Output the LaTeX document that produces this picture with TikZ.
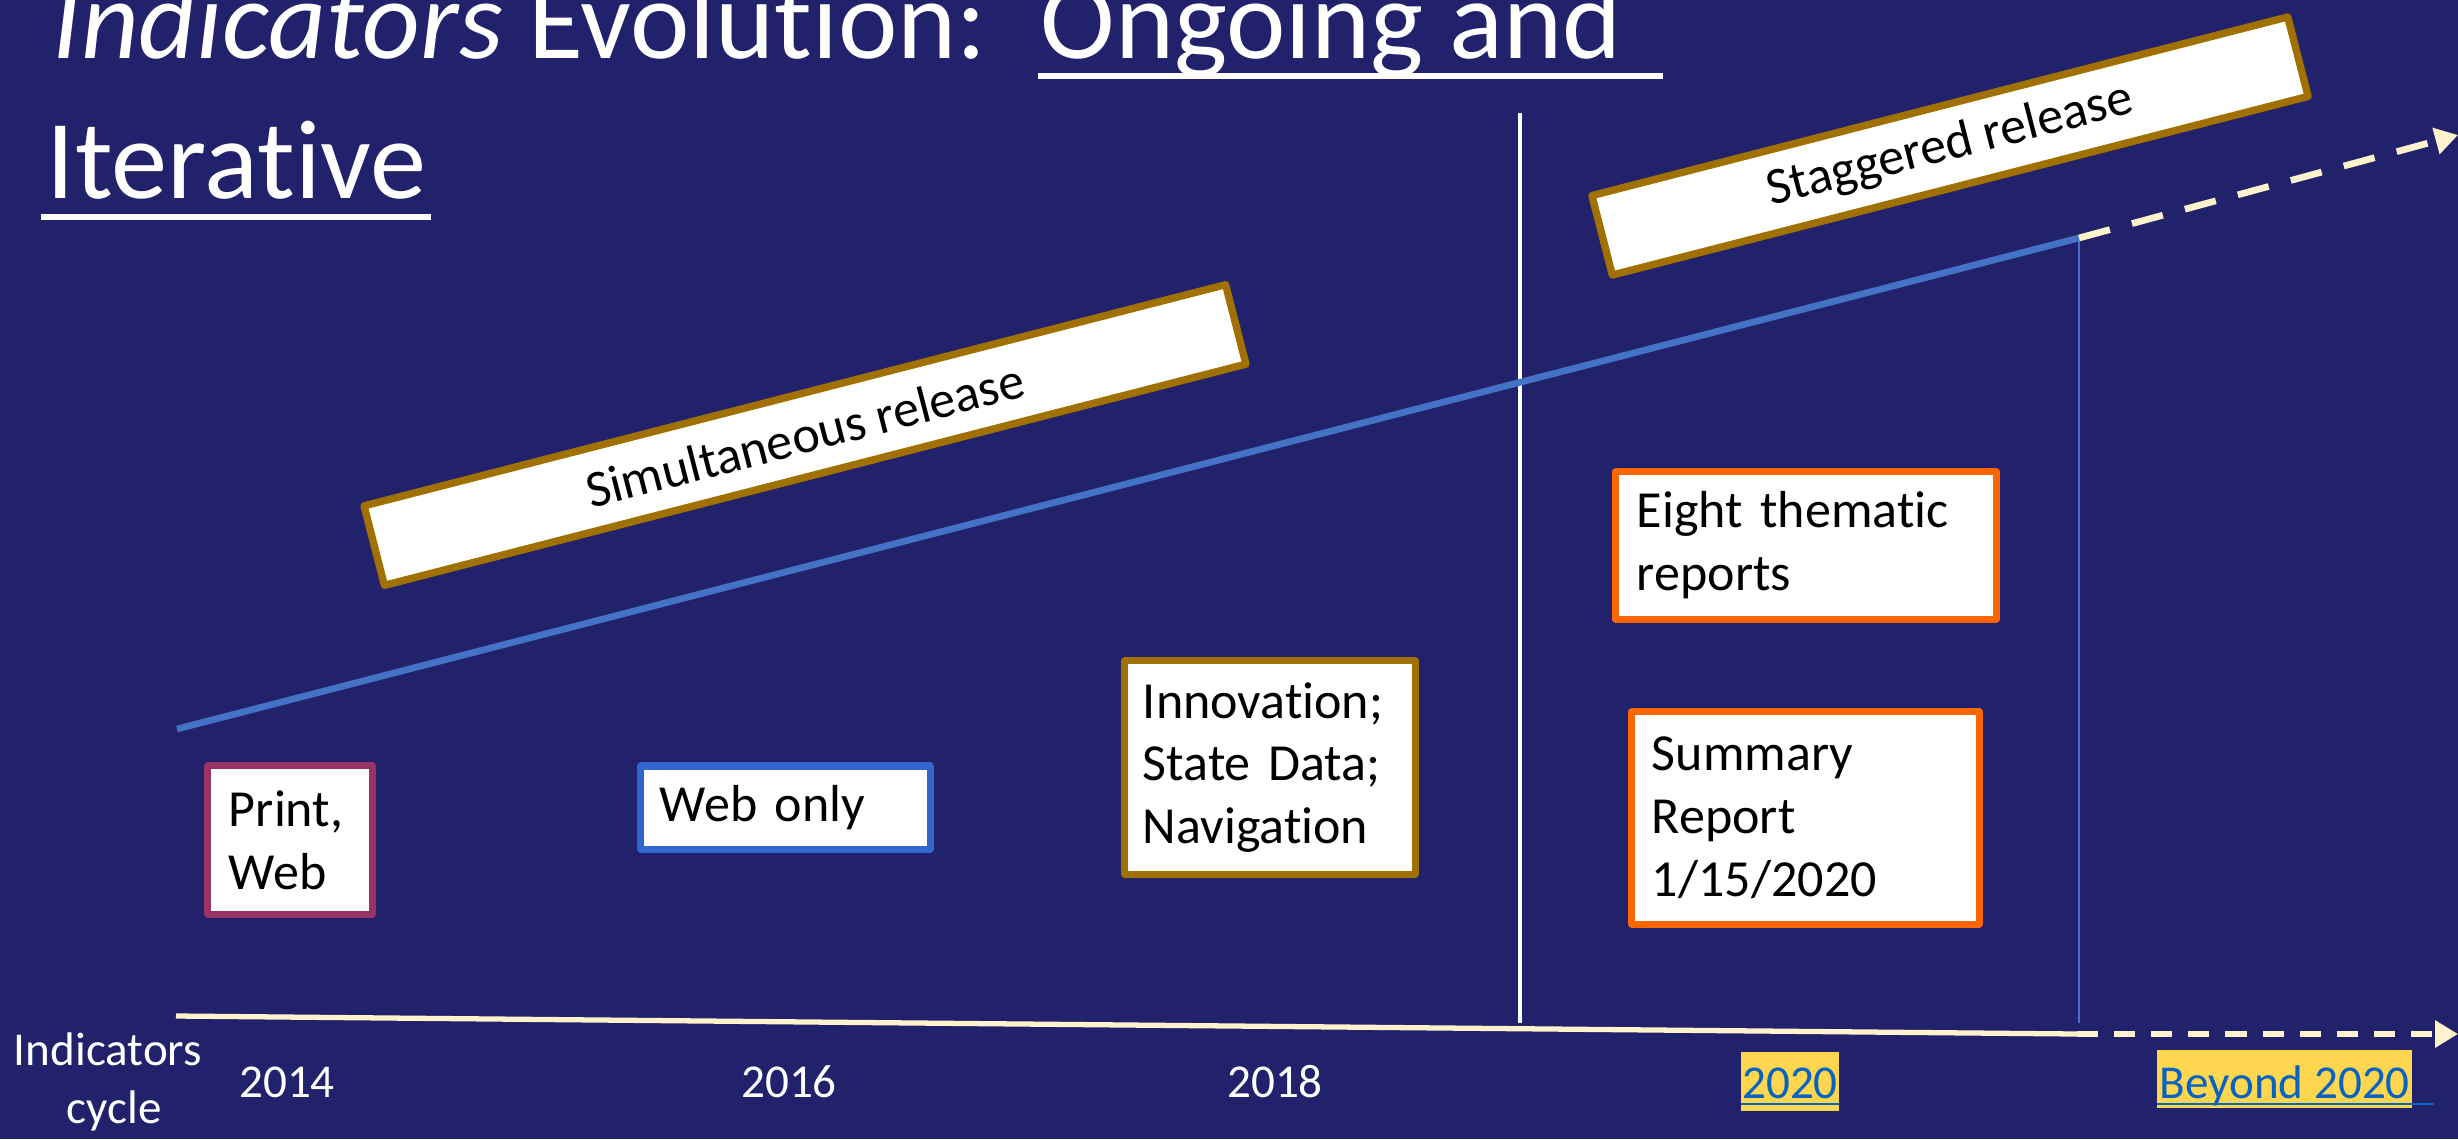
\documentclass[tikz,border=0pt]{standalone}
\usepackage{fontspec}
\setmainfont{Carlito}[Ligatures={NoCommon}]
\usetikzlibrary{arrows.meta}
\definecolor{bg}{RGB}{34,33,107}
\definecolor{gold}{RGB}{160,113,0}
\definecolor{plum}{RGB}{153,51,102}
\definecolor{webblue}{RGB}{51,102,204}
\definecolor{orng}{RGB}{255,102,0}
\definecolor{lineblue}{RGB}{68,114,196}
\definecolor{cream}{RGB}{255,242,204}
\definecolor{hl}{RGB}{255,214,79}
\definecolor{link}{RGB}{5,99,193}
\newcommand\ttlfont{\fontsize{32pt}{39pt}\selectfont}
\newcommand\bxfont{\fontsize{14.8pt}{17.9pt}\selectfont}
\newcommand\yrfont{\fontsize{13.4pt}{16.5pt}\selectfont}
\newcommand\nolig{\kern0pt }
\tikzset{
  txt/.style={inner sep=0pt, text=white},
  ttl/.style={txt, font=\ttlfont, anchor=base west},
  yr/.style={txt, font=\yrfont, anchor=base},
  tbox/.style={draw, line width=2pt, fill=white, inner sep=0pt, align=left,
    font=\bxfont, text=black, line join=round},
  rbox/.style={draw=gold, line width=2.1pt, fill=white, inner sep=0pt,
    font=\bxfont, text=black, line join=round, rotate=14.4},
  hlbox/.style={fill=hl, inner sep=0pt},
  uline/.style={draw=white, line width=1.7pt},
  lkline/.style={draw=link, line width=0.8pt},
}
\begin{document}
\begin{tikzpicture}[x=0.01cm,y=-0.01cm]
\useasboundingbox (0,0) rectangle (2458,1139);
\fill[bg] (0,0) rectangle (2458,1139);

% title
\node[ttl] (t1) at (52,58) {\textit{Indicators} Evolut\nolig ion:};
\node[ttl] (t2) at (1040,58) {Ongoing and};
\node[ttl] (t3) at (46,198) {Iterat\nolig ive};
\coordinate (u1a) at (1038,76); \coordinate (u1b) at (1663,76);
\coordinate (u2a) at (41,217);  \coordinate (u2b) at (431,217);
\draw[uline] (u1a) -- (u1b);
\draw[uline] (u2a) -- (u2b);

% coordinates of lines
\coordinate (bl0) at (177,729);
\coordinate (bl1) at (2079,238);
\coordinate (tip1) at (2458,135);
\coordinate (ax0) at (176,1016);
\coordinate (ax1) at (2077,1034);
\coordinate (tip2) at (2458,1034);
\coordinate (vw0) at (1520,113);
\coordinate (vw1) at (1520,1023);
\coordinate (vb1) at (2076,1023);

% vertical lines
\draw[white, line width=1.4pt] (vw0) -- (vw1);
\draw[lineblue, line width=0.5pt] (bl1) -- (bl1 |- vb1);

% rising line
\draw[lineblue, line width=1.9pt] (bl0) -- (bl1);
\draw[cream, line width=1.9pt, dash pattern=on 9.1pt off 6.5pt,
  -{Triangle[length=6.5pt,width=7.4pt]}] (bl1) -- (tip1);

% axis
\draw[cream, line width=1.5pt] (ax0) -- (ax1);
\draw[cream, line width=1.6pt, dash pattern=on 6pt off 4.55pt,
  -{Triangle[length=6.5pt,width=7.4pt]}] (ax1) -- (tip2);

% rotated boxes
\node[rbox, minimum width=8.89cm, minimum height=0.82cm] (sim) at (805,435) {Simultaneous release};
\node[rbox, minimum width=7.18cm, minimum height=0.82cm] (stag) at (1950,146) {Staggered release};

% boxes
\node[tbox, draw=plum, minimum width=1.64cm, minimum height=1.48cm, text width=1.22cm] (pw) at (290,840) {Print,\\Web};
\node[tbox, draw=webblue, minimum width=2.89cm, minimum height=0.83cm, text width=2.51cm] (wo) at (785.5,807.5) {Web only};
\node[tbox, draw=gold, minimum width=2.90cm, minimum height=2.13cm, text width=2.54cm] (inn) at (1270,767.5) {Innovat\nolig ion;\\State Data;\\Navigat\nolig ion};
\node[tbox, draw=orng, minimum width=3.80cm, minimum height=1.47cm, text width=3.38cm] (etr) at (1806,545.5) {Eight themat\nolig ic\\reports};
\node[tbox, draw=orng, minimum width=3.47cm, minimum height=2.12cm, text width=3.07cm] (sr) at (1805.5,818) {Summary\\Report\\1/15/2020};

% axis labels
\node[yr] (ic1) at (108,1065) {Indicators};
\node[yr] (ic2) at (114,1123) {cycle};
\node[yr] (y14) at (287,1097) {2014};
\node[yr] (y16) at (789,1097) {2016};
\node[yr] (y18) at (1275,1097) {2018};
\node[hlbox, minimum width=0.98cm, minimum height=0.59cm] (h20) at (1790,1081.5) {};
\node[yr, text=link] (y20) at (1790,1098) {2020};
\node[hlbox, minimum width=2.55cm, minimum height=0.58cm] (hb) at (2284.5,1079) {};
\node[yr, text=link, anchor=base west] (yb) at (2159,1098) {Beyond 2020};
\coordinate (l1a) at (1741,1104); \coordinate (l1b) at (1839,1104);
\coordinate (l2a) at (2157,1104); \coordinate (l2b) at (2434,1104);
\draw[lkline] (l1a) -- (l1b);
\draw[lkline] (l2a) -- (l2b);
\end{tikzpicture}
\end{document}
